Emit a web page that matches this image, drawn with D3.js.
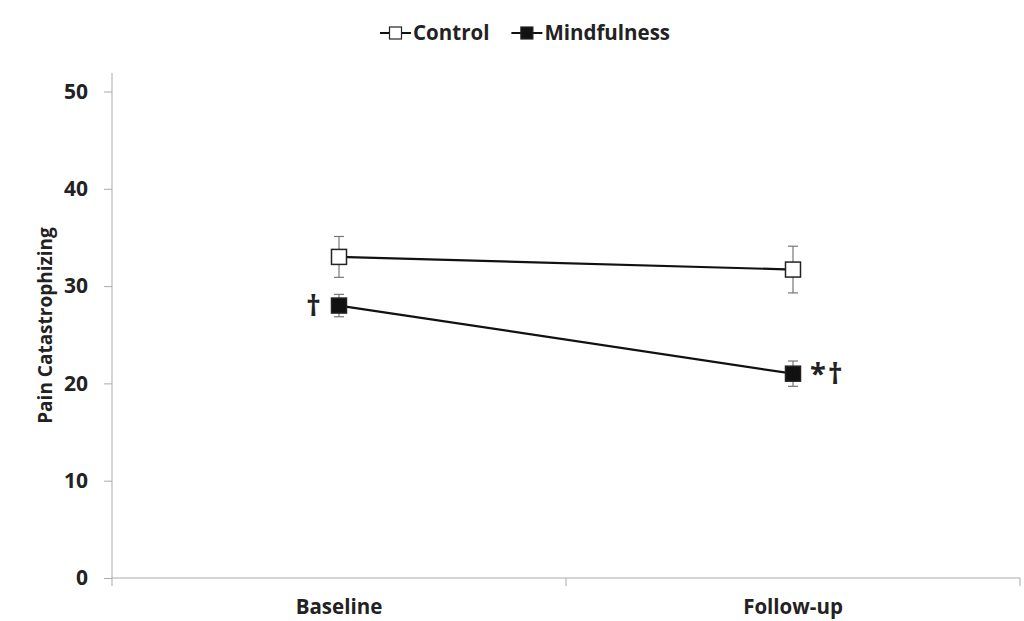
<!DOCTYPE html>
<html><head><meta charset="utf-8">
<script src="https://cdn.jsdelivr.net/npm/d3@7"></script>
<style>body{margin:0;background:#fff;} text{font-family:"Open Sans",sans-serif;font-weight:700;fill:#222;}</style>
</head><body>
<svg id="c" width="1024" height="621"></svg>
<script>
const categories = ["Baseline", "Follow-up"];
const seriesNames = ["Control", "Mindfulness"];
const controlMean = [33.0, 31.7];
const controlErr = [2.1, 2.4];
const mindMean = [28.0, 21.0];
const mindErr = [1.15, 1.3];
const yTicks = [0, 10, 20, 30, 40, 50];
const annotations = [
  {series: "Mindfulness", cat: "Baseline", text: "†", side: "left"},
  {series: "Mindfulness", cat: "Follow-up", text: "*†", side: "right"}
];

const svg = d3.select("#c");
const mLeft = 112, mRight = 1020, mTop = 73, mBottom = 578;
const y = d3.scaleLinear().domain([0, 50]).range([mBottom, 91.5]);
const x = d3.scaleBand().domain(categories).range([mLeft, mRight]);

// y axis
const yAxis = svg.append("g").attr("transform", `translate(${mLeft},0)`)
  .call(d3.axisLeft(y).tickValues(yTicks).tickSize(8).tickPadding(16));
yAxis.select(".domain").remove();
yAxis.selectAll("line").attr("stroke", "#aaa");
yAxis.selectAll("text").style("font-size", "21px").style("font-family", '"Open Sans",sans-serif').attr("fill", "#222");
svg.append("line").attr("x1", mLeft).attr("x2", mLeft).attr("y1", mTop).attr("y2", mBottom).attr("stroke", "#aaa");

// x axis
svg.append("line").attr("x1", mLeft).attr("x2", mRight).attr("y1", mBottom).attr("y2", mBottom).attr("stroke", "#aaa");
const bounds = [mLeft].concat(categories.map(c => x(c) + x.bandwidth()));
svg.selectAll(".xt").data(bounds).enter().append("line")
  .attr("x1", d => d).attr("x2", d => d).attr("y1", mBottom).attr("y2", mBottom + 8).attr("stroke", "#aaa");
svg.selectAll(".xl").data(categories).enter().append("text")
  .attr("x", d => x(d) + x.bandwidth() / 2).attr("y", 614).attr("text-anchor", "middle")
  .style("font-size", "20.5px").text(d => d);

// y label
svg.append("text").attr("transform", `translate(52,${(mTop + mBottom) / 2}) rotate(-90)`)
  .attr("text-anchor", "middle").style("font-size", "19px").text("Pain Catastrophizing");

const series = [
  {name: "Control", mean: controlMean, err: controlErr, fill: "#fff"},
  {name: "Mindfulness", mean: mindMean, err: mindErr, fill: "#111"}
];
const cx = c => x(c) + x.bandwidth() / 2;
const line = d3.line().x(d => cx(d.cat)).y(d => y(d.v));

series.forEach(s => {
  const pts = categories.map((c, i) => ({cat: c, v: s.mean[i], e: s.err[i]}));
  svg.append("path").datum(pts).attr("d", line).attr("fill", "none").attr("stroke", "#111").attr("stroke-width", 2.2);
  const g = svg.append("g");
  pts.forEach(p => {
    g.append("line").attr("x1", cx(p.cat)).attr("x2", cx(p.cat)).attr("y1", y(p.v + p.e)).attr("y2", y(p.v - p.e)).attr("stroke", "#777").attr("stroke-width", 1.2);
    [p.v + p.e, p.v - p.e].forEach(v => g.append("line").attr("x1", cx(p.cat) - 5).attr("x2", cx(p.cat) + 5).attr("y1", y(v)).attr("y2", y(v)).attr("stroke", "#777").attr("stroke-width", 1.2));
    g.append("rect").attr("x", cx(p.cat) - 7.5).attr("y", y(p.v) - 7.5).attr("width", 15).attr("height", 15)
      .attr("fill", s.fill).attr("stroke", "#222").attr("stroke-width", 1.5);
  });
});

annotations.forEach(a => {
  const s = series.find(d => d.name === a.series);
  const i = categories.indexOf(a.cat);
  svg.append("text").attr("x", cx(a.cat) + (a.side === "left" ? -16 : 17)).attr("y", y(s.mean[i]))
    .attr("dy", "0.35em").attr("text-anchor", a.side === "left" ? "end" : "start")
    .style("font-size", "29px").style("font-weight", "700").style("letter-spacing", "2px").text(a.text);
});

// legend
const lg = svg.append("g");
let lx = 380;
series.forEach(s => {
  lg.append("line").attr("x1", lx).attr("x2", lx + 31).attr("y1", 33).attr("y2", 33).attr("stroke", "#111").attr("stroke-width", 2);
  lg.append("rect").attr("x", lx + 9.5).attr("y", 27).attr("width", 12).attr("height", 12).attr("fill", s.fill).attr("stroke", "#222").attr("stroke-width", 1.2);
  const t = lg.append("text").attr("x", lx + 33).attr("y", 33).attr("dy", "0.35em").style("font-size", "20.5px").text(s.name);
  lx = lx + 33 + t.node().getComputedTextLength() + 22;
});
</script>
</body></html>
